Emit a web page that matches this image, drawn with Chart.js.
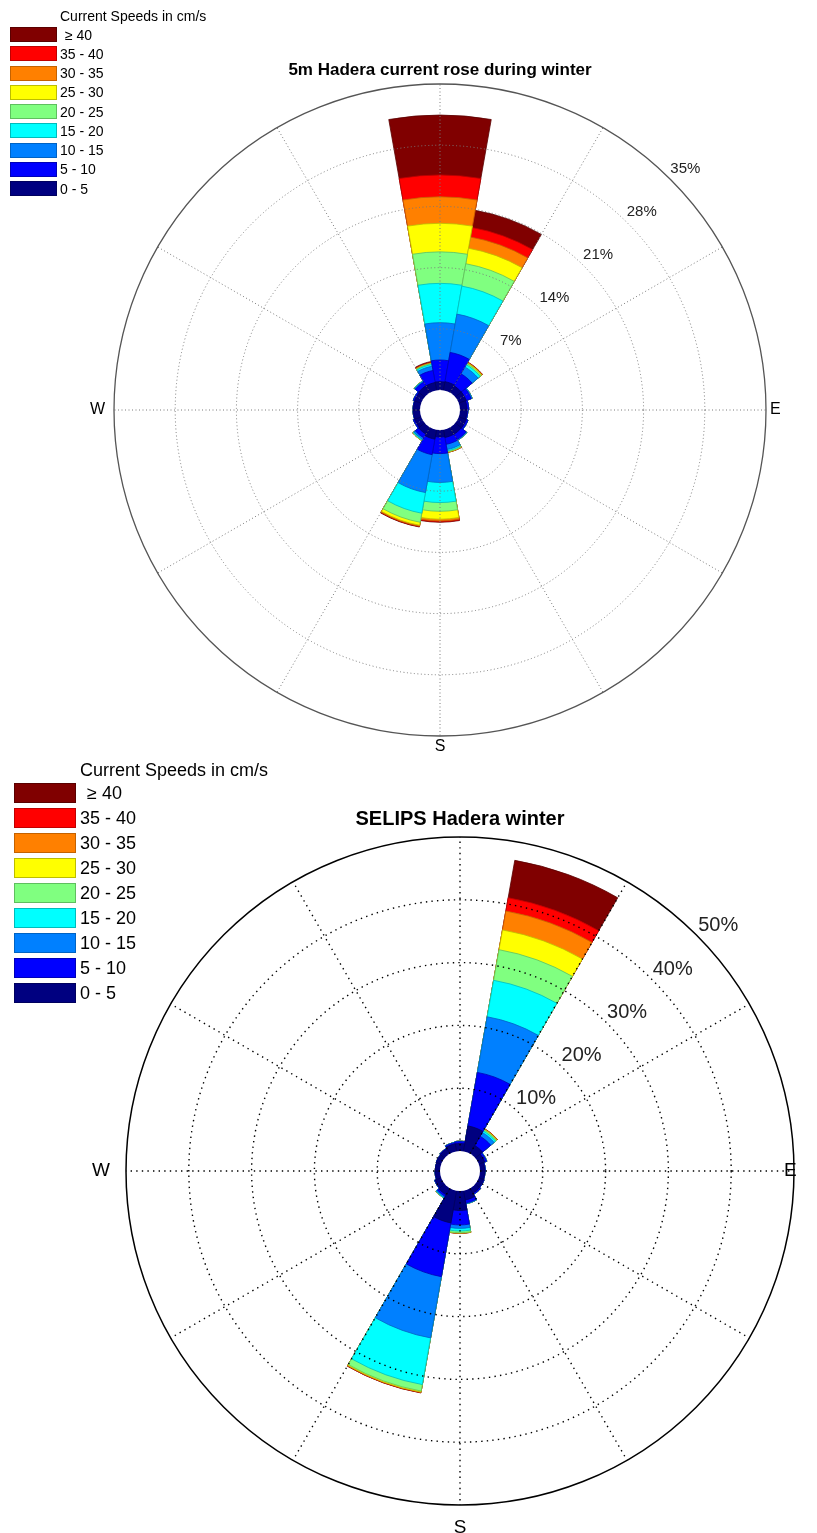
<!DOCTYPE html>
<html>
<head>
<meta charset="utf-8">
<script src="https://cdn.jsdelivr.net/npm/chart.js@4.4.0/dist/chart.umd.min.js"></script>
<style>
  html, body { margin: 0; padding: 0; background: #fff; }
  body { width: 817px; height: 1533px; position: relative; overflow: hidden;
         font-family: "Liberation Sans", Arial, Helvetica, sans-serif; color: #000; }
  .panel { position: absolute; left: 0; width: 817px; }
  .panel canvas { position: absolute; left: 0; top: 0; }
  .title { position: absolute; font-weight: bold; white-space: nowrap; transform: translate(-50%, -50%); }
  .leg-title, .leg-label { position: absolute; white-space: pre; transform: translateY(-50%); }
  .leg-box { position: absolute; box-sizing: border-box; border: 1px solid; }
</style>
</head>
<body>
<div id="panel1" class="panel" style="top:0;height:760px">
  <canvas id="rose1" width="817" height="760"></canvas>
</div>
<div id="panel2" class="panel" style="top:760px;height:773px">
  <canvas id="rose2" width="817" height="773"></canvas>
</div>
<script>
// Direction sectors (degrees clockwise from north), 20° wide
const directions = [0, 20, 40, 60, 80, 100, 120, 140, 160, 180, 200, 220, 240, 260, 280, 300, 320, 340];

// Speed classes, slowest first
const speedLabels = ['0 - 5', '5 - 10', '10 - 15', '15 - 20', '20 - 25', '25 - 30', '30 - 35', '35 - 40', '\u2265 40'];
const speedColors = ['#000080', '#0000FF', '#0080FF', '#00FFFF', '#80FF80', '#FFFF00', '#FF8000', '#FF0000', '#800000'];
const speedEdges  = ['#00005e', '#0000b8', '#0063c4', '#00bcbc', '#5fbf5f', '#bdbd00', '#c46200', '#c00000', '#5a0000'];
const legendTitle = 'Current Speeds in cm/s';

// 5m Hadera, winter: % of records per direction for each speed class
const hadera5m_0to5   = [0.95, 1.0, 0.9, 0.9, 0.8, 0.8, 0.9, 0.9, 0.9, 0.8, 1.1, 0.9, 0.8, 0.75, 0.75, 0.8, 0.9, 0.9];
const hadera5m_5to10  = [2.48, 3.4, 1.6, 0.6, 0.2, 0.1, 0.2, 0.7, 0.8, 1.9, 1.8, 0.5, 0.15, 0.05, 0.05, 0.15, 0.5, 1.4];
const hadera5m_10to15 = [4.27, 4.45, 0.9, 0.1, 0, 0, 0.02, 0.1, 0.6, 3.3, 4.4, 0.2, 0, 0, 0, 0.02, 0.1, 0.5];
const hadera5m_15to20 = [4.5, 3.25, 0.3, 0.02, 0, 0, 0, 0.02, 0.15, 2.3, 2.4, 0.1, 0, 0, 0, 0, 0.05, 0.2];
const hadera5m_20to25 = [3.6, 2.6, 0.15, 0, 0, 0, 0, 0, 0.1, 1.0, 1.05, 0.05, 0, 0, 0, 0, 0.02, 0.1];
const hadera5m_25to30 = [3.27, 1.8, 0.1, 0, 0, 0, 0, 0, 0.05, 0.9, 0.35, 0.02, 0, 0, 0, 0, 0, 0.05];
const hadera5m_30to35 = [3.03, 1.3, 0.05, 0, 0, 0, 0, 0, 0.02, 0.2, 0.1, 0.01, 0, 0, 0, 0, 0, 0.05];
const hadera5m_35to40 = [2.5, 1.1, 0.03, 0, 0, 0, 0, 0, 0.01, 0.1, 0.05, 0, 0, 0, 0, 0, 0, 0.05];
const hadera5m_40up   = [6.85, 2.0, 0.02, 0, 0, 0, 0, 0, 0.01, 0.05, 0.05, 0, 0, 0, 0, 0, 0, 0.1];
const hadera5mRings   = [7, 14, 21, 28, 35];

// SELIPS Hadera, winter
const selips_0to5   = [1.2, 4.1, 1.5, 1.0, 0.75, 0.75, 0.8, 0.9, 1.5, 3.1, 5.2, 1.2, 1.0, 0.75, 0.75, 0.8, 0.9, 1.2];
const selips_5to10  = [0.3, 8.65, 1.7, 0.3, 0.1, 0.05, 0.1, 0.2, 0.5, 2.3, 8.7, 0.3, 0.1, 0.05, 0, 0.05, 0.1, 0.2];
const selips_10to15 = [0.05, 9.0, 0.7, 0.05, 0, 0, 0, 0.02, 0.1, 0.55, 9.9, 0.2, 0.02, 0, 0, 0, 0.02, 0.05];
const selips_15to20 = [0.02, 5.9, 0.3, 0.02, 0, 0, 0, 0, 0.02, 0.42, 7.55, 0.1, 0, 0, 0, 0, 0, 0];
const selips_20to25 = [0, 4.95, 0.2, 0, 0, 0, 0, 0, 0, 0.27, 1.05, 0.02, 0, 0, 0, 0, 0, 0];
const selips_25to30 = [0, 3.2, 0.1, 0, 0, 0, 0, 0, 0, 0.06, 0.15, 0, 0, 0, 0, 0, 0, 0];
const selips_30to35 = [0, 3.05, 0.05, 0, 0, 0, 0, 0, 0, 0.02, 0.07, 0, 0, 0, 0, 0, 0, 0];
const selips_35to40 = [0, 2.15, 0.03, 0, 0, 0, 0, 0, 0, 0.01, 0.05, 0, 0, 0, 0, 0, 0, 0];
const selips_40up   = [0, 6.05, 0.02, 0, 0, 0, 0, 0, 0, 0.01, 0.03, 0, 0, 0, 0, 0, 0, 0];
const selipsRings   = [10, 20, 30, 40, 50];

Chart.defaults.font.family = '"Liberation Sans", Arial, Helvetica, sans-serif';

// Grid, centre hole and labels drawn on top of the stacked petals
function roseOverlay(o) {
  return {
    id: 'roseOverlay',
    afterDatasetsDraw(chart) {
      const s = chart.scales.r, ctx = chart.ctx;
      const cx = s.xCenter, cy = s.yCenter;
      const r0 = s.getDistanceFromCenterForValue(0);
      const R = s.getDistanceFromCenterForValue(s.max);
      ctx.save();
      ctx.beginPath();
      ctx.arc(cx, cy, r0, 0, Math.PI * 2);
      ctx.fillStyle = '#fff';
      ctx.fill();

      ctx.strokeStyle = o.gridColor;
      ctx.lineWidth = o.gridWidth;
      ctx.setLineDash(o.dash);
      o.rings.forEach(v => {
        if (v < s.max) {
          ctx.beginPath();
          ctx.arc(cx, cy, s.getDistanceFromCenterForValue(v), 0, Math.PI * 2);
          ctx.stroke();
        }
      });
      for (let a = 0; a < 360; a += 30) {
        const t = (a - 90) * Math.PI / 180;
        ctx.beginPath();
        ctx.moveTo(cx + r0 * Math.cos(t), cy + r0 * Math.sin(t));
        ctx.lineTo(cx + R * Math.cos(t), cy + R * Math.sin(t));
        ctx.stroke();
      }
      ctx.setLineDash([]);
      ctx.strokeStyle = o.rimColor;
      ctx.lineWidth = o.rimWidth;
      ctx.beginPath();
      ctx.arc(cx, cy, R, 0, Math.PI * 2);
      ctx.stroke();

      ctx.fillStyle = '#222';
      ctx.font = o.tickFont;
      ctx.textAlign = 'center';
      ctx.textBaseline = 'middle';
      const la = o.labelAngle * Math.PI / 180;
      o.rings.forEach(v => {
        const d = s.getDistanceFromCenterForValue(v) + o.labelGap;
        ctx.fillText(v + '%', cx + d * Math.sin(la), cy - d * Math.cos(la));
      });

      ctx.fillStyle = '#000';
      ctx.font = o.compassFont;
      ctx.textAlign = 'right';
      ctx.fillText('W', cx - R - o.wGap, cy);
      ctx.textAlign = 'left';
      ctx.fillText('E', cx + R + o.eGap, cy);
      ctx.textAlign = 'center';
      ctx.textBaseline = 'top';
      ctx.fillText('S', cx, cy + R + o.sGap);
      ctx.restore();
    }
  };
}

function makeRose(canvasId, bins, rings, holePx, padding, overlay) {
  // cumulative totals so each class sits on the slower ones
  const datasets = [];
  let running = directions.map(() => 0);
  bins.forEach((bin, k) => {
    running = running.map((v, i) => v + bin[i]);
    datasets.push({
      label: speedLabels[k],
      data: running.slice(),
      backgroundColor: speedColors[k],
      borderColor: speedEdges[k],
      borderWidth: 0.8
    });
  });
  const maxV = rings[rings.length - 1];
  const side = 817 - padding.left - padding.right;
  const R = side / 2;
  const minV = -holePx * maxV / (R - holePx);
  return new Chart(document.getElementById(canvasId), {
    type: 'polarArea',
    data: { labels: directions.map(d => d + '\u00b0'), datasets },
    options: {
      responsive: false,
      animation: false,
      layout: { padding },
      plugins: { legend: { display: false }, tooltip: { enabled: false } },
      scales: {
        r: {
          startAngle: -10,
          min: minV,
          max: maxV,
          grid: { display: false },
          angleLines: { display: false },
          pointLabels: { display: false },
          ticks: { display: false }
        }
      }
    },
    plugins: [roseOverlay(Object.assign({ rings }, overlay))]
  });
}

function addTitle(panelId, text, x, y, size) {
  const el = document.createElement('div');
  el.className = 'title';
  el.textContent = text;
  el.style.left = x + 'px';
  el.style.top = y + 'px';
  el.style.fontSize = size + 'px';
  document.getElementById(panelId).appendChild(el);
}

function addLegend(panelId, g) {
  const panel = document.getElementById(panelId);
  const t = document.createElement('div');
  t.className = 'leg-title';
  t.textContent = legendTitle;
  t.style.left = g.textLeft + 'px';
  t.style.top = g.titleY + 'px';
  t.style.fontSize = g.font + 'px';
  panel.appendChild(t);
  for (let k = speedLabels.length - 1; k >= 0; k--) {
    const row = speedLabels.length - 1 - k;
    const top = g.boxTop + row * g.step;
    const box = document.createElement('div');
    box.className = 'leg-box';
    box.style.left = g.boxLeft + 'px';
    box.style.top = top + 'px';
    box.style.width = g.boxW + 'px';
    box.style.height = g.boxH + 'px';
    box.style.background = speedColors[k];
    box.style.borderColor = speedEdges[k];
    panel.appendChild(box);
    const lab = document.createElement('div');
    lab.className = 'leg-label';
    lab.textContent = speedLabels[k];
    lab.style.left = (g.textLeft + (k === speedLabels.length - 1 ? g.geIndent : 0)) + 'px';
    lab.style.top = (top + g.boxH / 2) + 'px';
    lab.style.fontSize = g.font + 'px';
    panel.appendChild(lab);
  }
}

makeRose('rose1',
  [hadera5m_0to5, hadera5m_5to10, hadera5m_10to15, hadera5m_15to20, hadera5m_20to25,
   hadera5m_25to30, hadera5m_30to35, hadera5m_35to40, hadera5m_40up],
  hadera5mRings, 20,
  { left: 114, top: 84, right: 51, bottom: 24 },
  { gridColor: '#7a7a7a', gridWidth: 1, dash: [1, 2.5], rimColor: '#555', rimWidth: 1.3,
    tickFont: '15px "Liberation Sans", Arial, sans-serif', labelAngle: 45.5, labelGap: 18,
    compassFont: '16px "Liberation Sans", Arial, sans-serif', wGap: 9, eGap: 4, sGap: 3 });

makeRose('rose2',
  [selips_0to5, selips_5to10, selips_10to15, selips_15to20, selips_20to25,
   selips_25to30, selips_30to35, selips_35to40, selips_40up],
  selipsRings, 20,
  { left: 126, top: 77, right: 23, bottom: 28 },
  { gridColor: '#000', gridWidth: 1.4, dash: [1.4, 4.2], rimColor: '#000', rimWidth: 1.5,
    tickFont: '20px "Liberation Sans", Arial, sans-serif', labelAngle: 46.5, labelGap: 22,
    compassFont: '19px "Liberation Sans", Arial, sans-serif', wGap: 16, eGap: -10, sGap: 13 });

addTitle('panel1', '5m Hadera current rose during winter', 440, 70, 17);
addTitle('panel2', 'SELIPS Hadera winter', 460, 58, 20);

addLegend('panel1', { textLeft: 60, titleY: 16, font: 14, boxLeft: 10, boxTop: 27, boxW: 47, boxH: 15, step: 19.25, geIndent: 5 });
addLegend('panel2', { textLeft: 80, titleY: 10, font: 18, boxLeft: 14, boxTop: 23, boxW: 62, boxH: 19.5, step: 25, geIndent: 7 });
</script>
</body>
</html>
